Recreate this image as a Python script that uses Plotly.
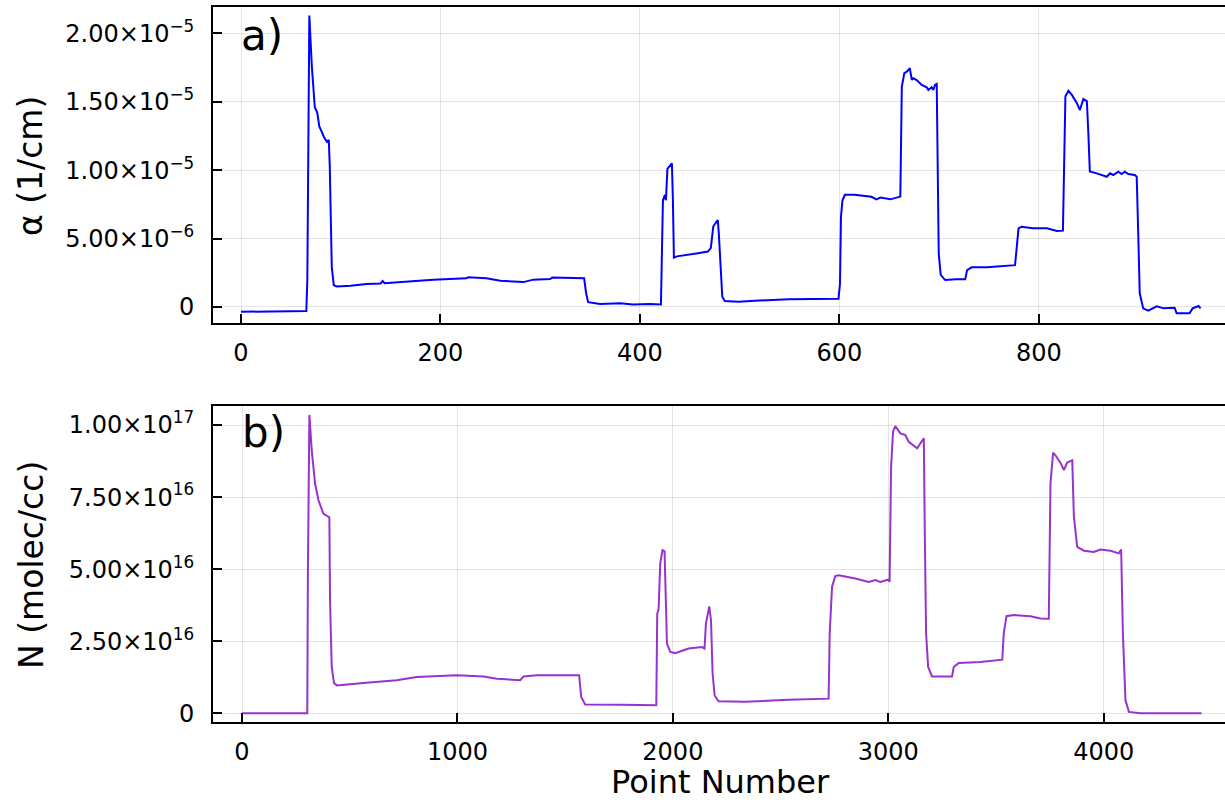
import plotly.graph_objects as go

# ---- panel a): absorption coefficient alpha (1/cm), values in units of 1e-6
alpha_pt = [0, 20, 40, 60, 65.5, 66.5, 68.5, 71, 74, 76.5, 78.5, 81, 83, 86, 88, 89, 90, 91, 93, 96,
            110, 126, 140, 142, 144, 159, 175, 193, 210, 226, 228, 246, 260, 283, 293, 310, 312, 326,
            336, 344, 346, 348, 360, 380, 393, 400, 410, 421, 423, 425, 426, 427.5, 430, 432, 433, 434,
            437, 448, 458, 468, 471, 473.5, 476, 478, 479, 481, 482.5, 485, 499, 515, 549, 599, 600.5,
            601.5, 603, 605.5, 615, 632, 637, 641, 651, 661, 662.5, 665, 667.5, 670.5, 672.5, 674, 677.4,
            682.4, 687.4, 689.1, 692.4, 694.1, 695.7, 697.5, 698.5, 699.5, 701.5, 706, 717, 726, 728,
            732.5, 748, 764, 776, 777.5, 779.5, 782.5, 794, 808, 818, 824, 825, 826.5, 829.5, 833, 838,
            841, 844.5, 848, 849.5, 851, 858, 862.8, 868, 871.2, 874.5, 879.5, 882.9, 886, 889.6, 896,
            898, 899.5, 901, 904.5, 909.5, 918, 925, 936, 938, 951, 954, 960, 962]
alpha_e6 = [-0.35, -0.33, -0.36, -0.34, -0.30, 2.0, 21.3, 17.6, 14.6, 14.2, 13.2, 12.8, 12.45, 12.1,
            12.2, 10.3, 6.6, 2.95, 1.6, 1.5, 1.55, 1.68, 1.72, 1.9, 1.74, 1.80, 1.9, 2.0, 2.05, 2.1,
            2.18, 2.1, 1.92, 1.82, 2.0, 2.05, 2.15, 2.14, 2.1, 2.1, 1.0, 0.35, 0.22, 0.27, 0.18, 0.2,
            0.22, 0.18, 7.8, 8.2, 7.8, 10.1, 10.3, 10.5, 7.8, 3.6, 3.7, 3.8, 3.93, 4.05, 4.3, 5.9,
            6.15, 6.35, 5.4, 2.5, 0.75, 0.44, 0.39, 0.46, 0.56, 0.61, 1.7, 6.6, 7.8, 8.2, 8.2, 8.06,
            7.87, 8.0, 7.87, 8.07, 16.1, 17.1, 17.2, 17.45, 16.6, 16.72, 16.59, 16.23, 16.06, 15.86,
            16.06, 15.86, 16.23, 16.3, 10.3, 3.9, 2.35, 1.97, 2.02, 2.02, 2.7, 2.9, 2.9, 3.0, 3.06,
            4.2, 5.75, 5.87, 5.75, 5.75, 5.56, 5.58, 10.3, 15.4, 15.8, 15.5, 14.9, 14.4, 15.2, 15.05,
            12.7, 9.9, 9.77, 9.65, 9.52, 9.77, 9.65, 9.89, 9.72, 9.89, 9.72, 9.65, 9.52, 5.4, 1.0,
            -0.1, -0.27, 0.05, -0.1, -0.05, -0.46, -0.46, -0.1, 0.07, -0.1]

# ---- panel b): number density N (molec/cc), values in units of 1e16
n_pt = [0, 303, 306, 312.8, 323.6, 339, 354.6, 377.7, 400.9, 405.5, 408.7, 416.5, 427, 440, 563, 718,
        811, 997, 1121, 1183, 1291, 1307, 1369, 1477, 1565, 1574.5, 1593, 1764, 1923, 1927.5, 1933.7,
        1941.5, 1952, 1961.5, 1966, 1972.6, 1988, 2011, 2073, 2135, 2147, 2153.5, 2169, 2177, 2184.5,
        2194, 2212, 2336, 2537, 2723, 2728, 2739, 2754, 2770, 2847, 2909, 2940, 2963, 3002, 3006, 3013,
        3022, 3032.5, 3056, 3079, 3095, 3134, 3149, 3165, 3169.5, 3175.5, 3185, 3203, 3296, 3304, 3327,
        3428, 3529, 3536, 3548.5, 3583, 3660, 3706, 3745, 3753, 3765, 3776, 3801, 3815, 3830.5, 3854,
        3861.5, 3877, 3908, 3954, 3985, 4032, 4070, 4081, 4089, 4101, 4117, 4170, 4454]
n_e16 = [0, 0, 5.0, 10.35, 9.13, 7.98, 7.40, 6.93, 6.82, 6.8, 3.92, 1.61, 1.05, 0.97, 1.05, 1.15,
         1.26, 1.32, 1.28, 1.20, 1.15, 1.28, 1.32, 1.32, 1.32, 0.57, 0.31, 0.30, 0.28, 3.46, 3.6,
         5.2, 5.66, 5.62, 3.92, 2.42, 2.13, 2.09, 2.25, 2.30, 2.25, 3.11, 3.71, 3.23, 1.38, 0.62,
         0.42, 0.40, 0.47, 0.51, 2.77, 4.39, 4.76, 4.79, 4.68, 4.56, 4.62, 4.56, 4.64, 4.56, 8.55,
         9.77, 9.96, 9.71, 9.65, 9.42, 9.19, 9.36, 9.54, 6.24, 2.77, 1.61, 1.28, 1.28, 1.61, 1.75,
         1.78, 1.86, 2.77, 3.37, 3.41, 3.37, 3.29, 3.28, 7.98, 9.04, 8.95, 8.67, 8.44, 8.70, 8.78,
         6.82, 5.77, 5.64, 5.60, 5.68, 5.64, 5.55, 5.68, 2.77, 0.45, 0.05, 0, 0]

# ---- tick labels
a_tickvals = [0, 5e-6, 1e-5, 1.5e-5, 2e-5]
a_ticktext = ["0", "5.00×10<sup>−6</sup>", "1.00×10<sup>−5</sup>", "1.50×10<sup>−5</sup>", "2.00×10<sup>−5</sup>"]
b_tickvals = [0, 2.5e16, 5e16, 7.5e16, 1e17]
b_ticktext = ["0", "2.50×10<sup>16</sup>", "5.00×10<sup>16</sup>", "7.50×10<sup>16</sup>", "1.00×10<sup>17</sup>"]
a_xticks = [0, 200, 400, 600, 800]
b_xticks = [0, 1000, 2000, 3000, 4000]

FONT = "DejaVu Sans"
W, H = 1225, 802

fig = go.Figure()
fig.add_trace(go.Scatter(x=alpha_pt, y=[v * 1e-6 for v in alpha_e6], mode="lines",
                         line=dict(color="#0000FF", width=2), xaxis="x", yaxis="y", showlegend=False))
fig.add_trace(go.Scatter(x=n_pt, y=[v * 1e16 for v in n_e16], mode="lines",
                         line=dict(color="#9932CC", width=2), xaxis="x2", yaxis="y2", showlegend=False))

common_axis = dict(showline=True, linecolor="black", linewidth=2, ticks="inside", ticklen=9,
                   tickwidth=2, tickcolor="black", showgrid=True, gridcolor="rgba(0,0,0,0.10)",
                   gridwidth=1, zeroline=False, tickfont=dict(family=FONT, size=24, color="black"),
                   automargin=False)

xdom = [213 / W, 1.0]
fig.update_layout(
    width=W, height=H,
    margin=dict(l=0, r=0, t=0, b=0),
    paper_bgcolor="white", plot_bgcolor="white",
    xaxis=dict(common_axis, domain=xdom, anchor="y", range=[-28.07, 986.5], mirror=True,
               tickvals=a_xticks, ticklabelstandoff=7),
    yaxis=dict(common_axis, domain=[1 - 323 / H, 1 - 7 / H], anchor="x",
               range=[-1.17e-6, 2.193e-5], tickvals=a_tickvals, ticktext=a_ticktext,
               ticklabelstandoff=12),
    xaxis2=dict(common_axis, domain=xdom, anchor="y2", range=[-134.6, 4563], mirror=True,
                tickvals=b_xticks, ticklabelstandoff=7),
    yaxis2=dict(common_axis, domain=[1 - 722 / H, 1 - 406 / H], anchor="x2",
                range=[-0.30e16, 10.66e16], tickvals=b_tickvals, ticktext=b_ticktext,
                ticklabelstandoff=12),
    annotations=[
        dict(text="a)", x=261.7 / W, y=1 - 36 / H, xref="paper", yref="paper", showarrow=False,
             xanchor="center", yanchor="middle", font=dict(family=FONT, size=42, color="black")),
        dict(text="b)", x=263.3 / W, y=1 - 433 / H, xref="paper", yref="paper", showarrow=False,
             xanchor="center", yanchor="middle", font=dict(family=FONT, size=42, color="black")),
        dict(text="α (1/cm)", x=30 / W, y=1 - 166 / H, xref="paper", yref="paper", showarrow=False,
             textangle=-90, xanchor="center", yanchor="middle",
             font=dict(family=FONT, size=33, color="black")),
        dict(text="N (molec/cc)", x=31 / W, y=1 - 565 / H, xref="paper", yref="paper", showarrow=False,
             textangle=-90, xanchor="center", yanchor="middle",
             font=dict(family=FONT, size=33, color="black")),
        dict(text="Point Number", x=720 / W, y=0, xref="paper", yref="paper", showarrow=False,
             xanchor="center", yanchor="bottom", borderpad=0,
             font=dict(family=FONT, size=32, color="black")),
    ],
)

fig.write_html("out.html")
